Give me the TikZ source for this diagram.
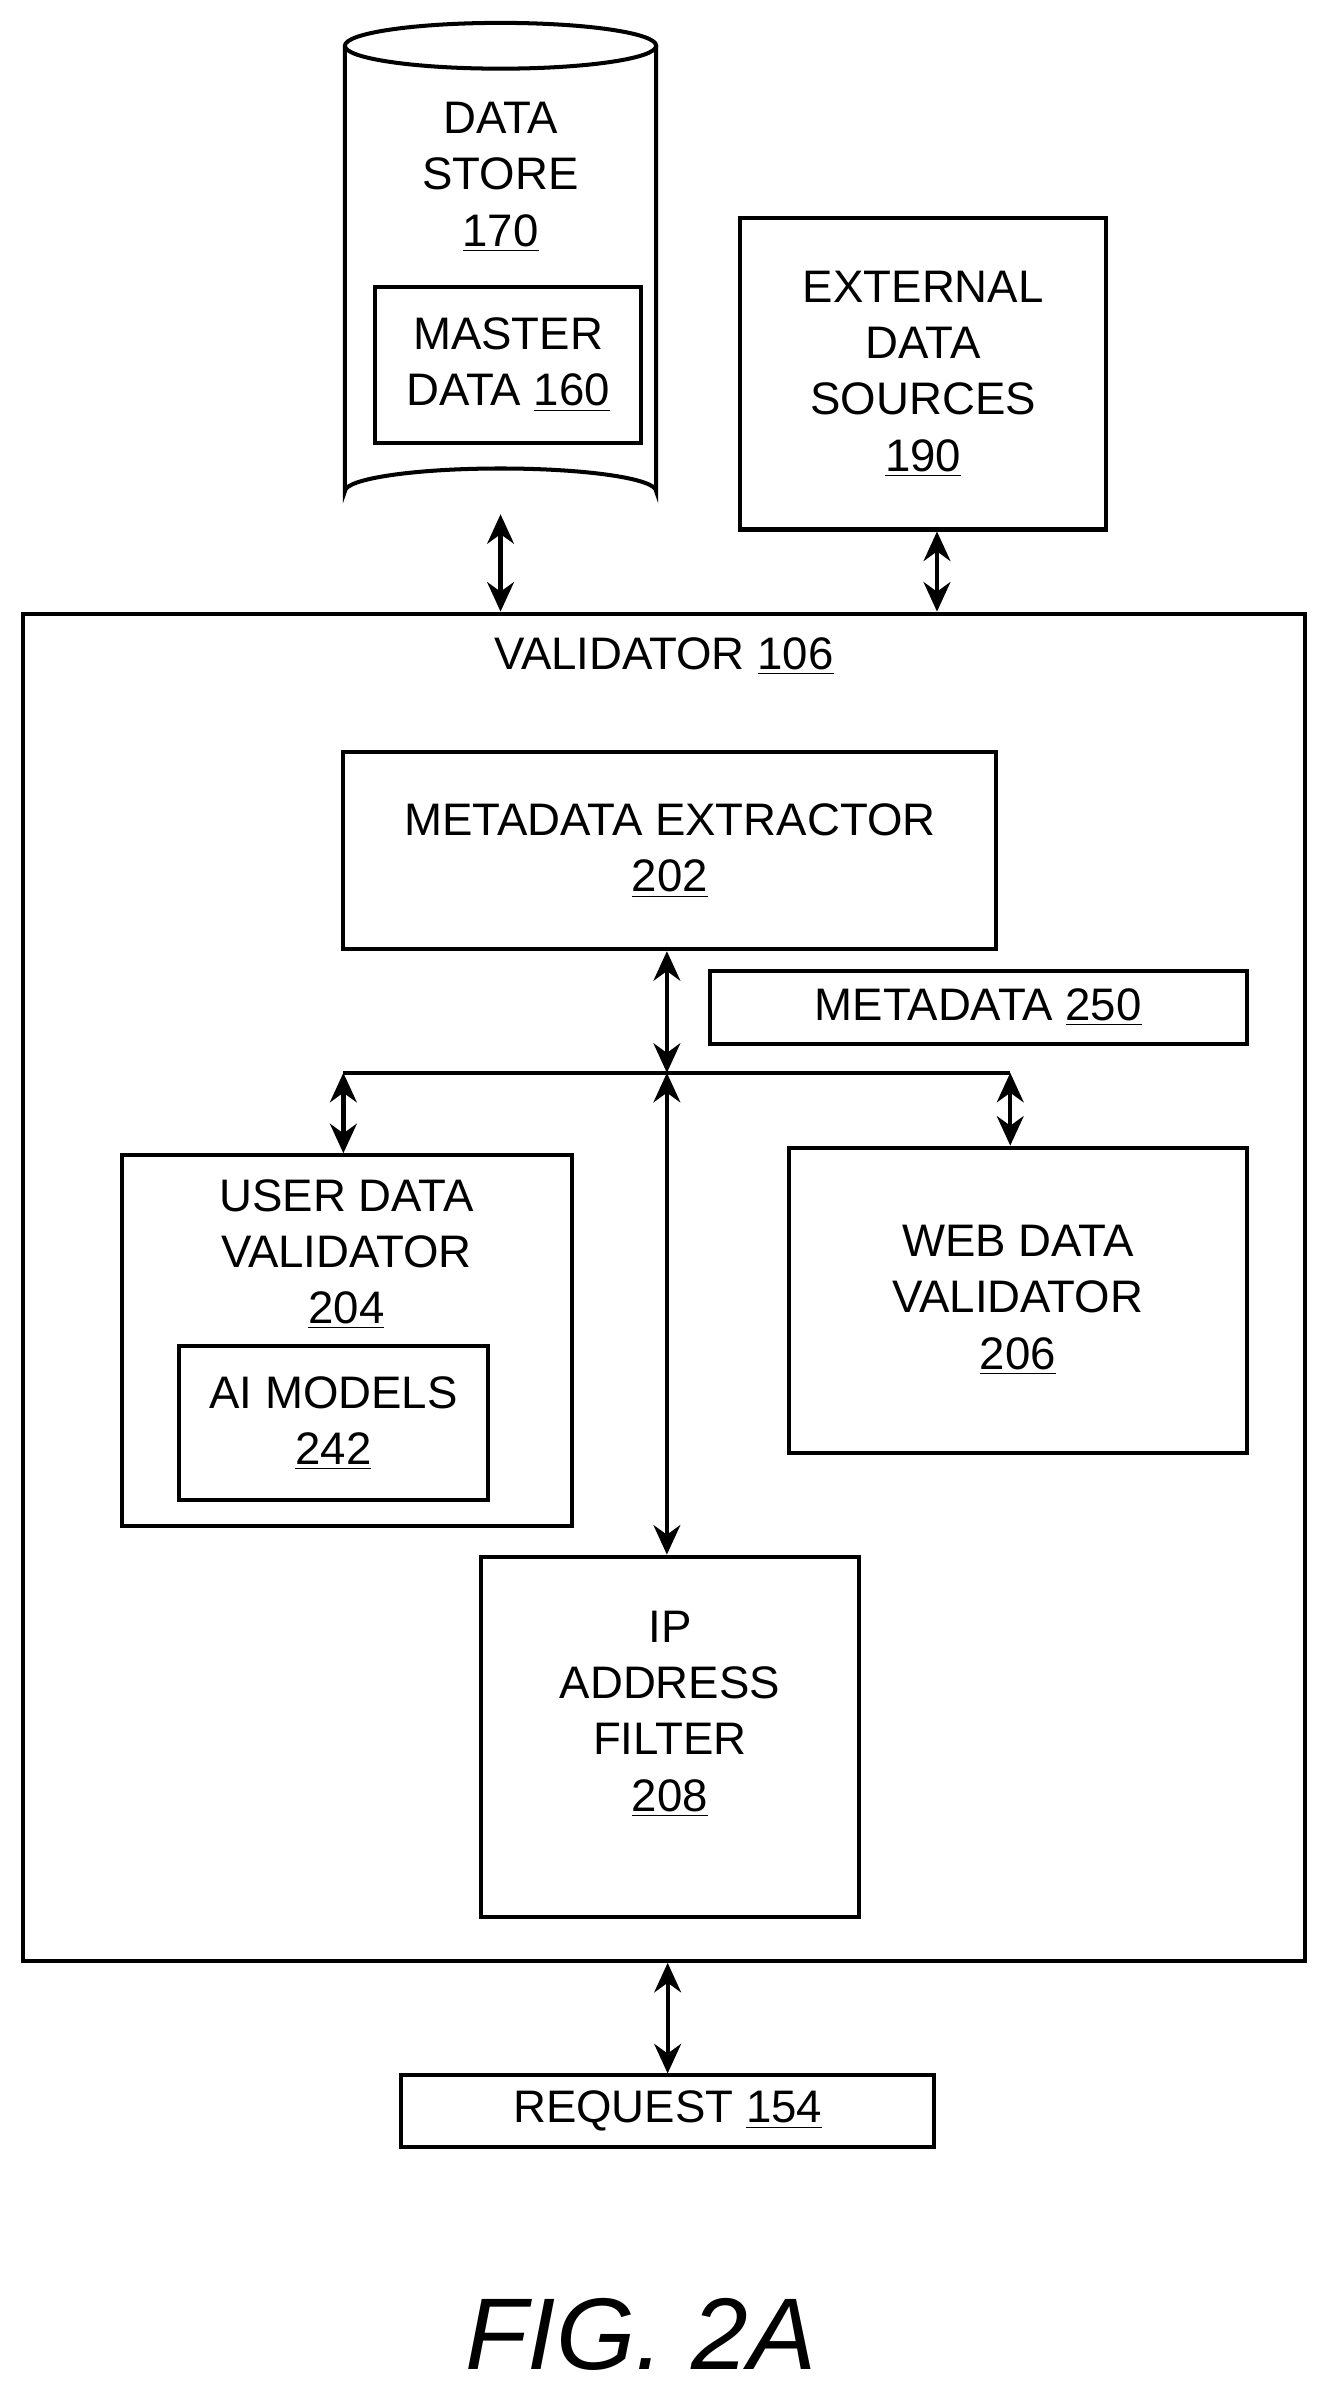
\documentclass[tikz,border=0pt]{standalone}
\usepackage{fontspec}
\setmainfont{Liberation Sans}
\usetikzlibrary{positioning}
\usetikzlibrary{arrows.meta}
\tikzset{
	every node/.style = {font=\fontsize{17}{21}\selectfont, align=center},
	box/.style = {draw, line width=1.5pt, inner sep=0pt},
	link/.style = {{Stealth[length=11pt,width=10pt]}-{Stealth[length=11pt,width=10pt]}, line width=1.6pt}
}
\begin{document}
\begin{tikzpicture}[x=0.02cm, y=-0.02cm]
		\useasboundingbox (0,0) rectangle (872,1574);
		% data store
		\draw[line width=1.5pt] (226,30) -- (226,322) arc[start angle=180, end angle=360, x radius=102, y radius=15] -- (430,30);
		\draw[line width=1.5pt] (328,30) ellipse[x radius=102, y radius=15];
		\coordinate (store) at (328,337);
		\node (storelbl) at (328,116) {DATA\\STORE\\ \underline{170}};
		\node[box, minimum width=3.48cm, minimum height=2.04cm] (master) at (333,239) {MASTER\\DATA \underline{160}};
		% external
		\node[box, minimum width=4.8cm, minimum height=4.08cm] (ext) at (605,245) {EXTERNAL\\DATA\\SOURCES\\ \underline{190}};
		% validator
		\node[box, minimum width=16.8cm, minimum height=17.66cm] (val) at (435,843.5) {};
		\node (vallbl) at (435,430) {VALIDATOR \underline{106}};
		\node[box, minimum width=8.56cm, minimum height=2.58cm] (mde) at (439,557.5) {METADATA EXTRACTOR\\ \underline{202}};
		\node[box, minimum width=7.04cm, minimum height=0.96cm] (meta) at (641,660) {METADATA \underline{250}};
		\node[box, minimum width=5.9cm, minimum height=4.86cm] (udv) at (227.5,878.5) {};
		\node (udvlbl) at (227,822) {USER DATA\\VALIDATOR\\ \underline{204}};
		\node[box, minimum width=4.06cm, minimum height=2.02cm] (ai) at (218.5,932.5) {AI MODELS\\ \underline{242}};
		\node[box, minimum width=6cm, minimum height=4cm] (wdv) at (667,852) {WEB DATA\\VALIDATOR\\ \underline{206}};
		\node[box, minimum width=4.96cm, minimum height=4.72cm] (ip) at (439,1138) {};
		\node (iplbl) at (439,1123) {IP\\ADDRESS\\FILTER\\ \underline{208}};
		\node[box, minimum width=6.98cm, minimum height=0.94cm] (req) at (437.5,1383.5) {REQUEST \underline{154}};
		\node (fig) at (420,1530) {\fontsize{38}{42}\selectfont\itshape FIG. 2A};
		% connectors
		\coordinate (bus) at (437,703);
		\coordinate (busL) at (225,703);
		\coordinate (busR) at (662,703);
		\draw[line width=1.5pt] (busL) -- (busR);
		\draw[link] (store) -- (store |- val.north);
		\draw[link] (ext.south -| 614,0) -- (val.north -| 614,0);
		\draw[link] (mde.south -| bus) -- (bus);
		\draw[link] (bus) -- (ip.north -| bus);
		\draw[link] (busL) -- (udv.north -| busL);
		\draw[link] (busR) -- (wdv.north -| busR);
		\draw[link] (val.south -| req) -- (req.north);
	\end{tikzpicture}
\end{document}
